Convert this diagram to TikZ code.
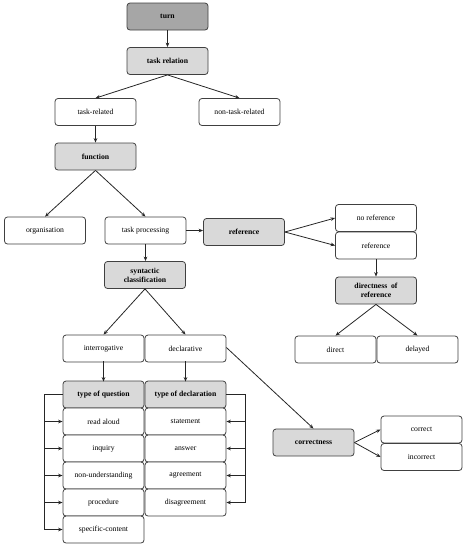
\documentclass[tikz,border=0pt]{standalone}
\usepackage{fontspec}
\setmainfont{Liberation Serif}
\usetikzlibrary{arrows.meta}
\definecolor{boxline}{HTML}{404040}
\definecolor{lightfill}{HTML}{D9D9D9}
\definecolor{darkfill}{HTML}{A6A6A6}
\begin{document}
\begin{tikzpicture}[x=1pt,y=-1pt,
  box/.style={draw=boxline,line width=0.8pt,rounded corners=3pt,minimum width=81pt,minimum height=27pt,inner sep=1pt,align=center,font=\fontsize{7.7}{8.5}\selectfont,fill=white},
  gbox/.style={box,fill=lightfill,font=\fontsize{7.7}{9}\selectfont\bfseries},
  dbox/.style={box,fill=darkfill,font=\fontsize{7.7}{9}\selectfont\bfseries},
  arr/.style={-{Stealth[length=4.5pt,width=3.6pt]},line width=0.8pt,black!85}]
\useasboundingbox (0,0) rectangle (471,550);
\node[dbox] (turn) at (167.5,16.5) {turn};
\node[gbox] (tr) at (167.5,61) {task relation};
\node[box] (trd) at (95.5,112) {task-related};
\node[box] (ntr) at (239.5,112) {non-task-related};
\node[gbox] (fn) at (95.5,156.5) {function};
\node[box] (org) at (45,230.5) {organisation};
\node[box] (tp) at (145.5,230.5) {task processing};
\node[gbox] (ref) at (244,232) {reference};
\node[box] (noref) at (376,218) {no reference};
\node[box] (refw) at (376,245.5) {reference};
\node[gbox] (syn) at (145,275) {syntactic\\classification};
\node[gbox] (dir) at (376,290.5) {directness\ \ of\\reference};
\node[box] (int) at (103.5,348.5) {interrogative};
\node[box] (dec) at (185.5,348.5) {declarative};
\node[box] (direct) at (335.5,349.5) {direct};
\node[box] (delayed) at (417.5,349.5) {delayed};
\node[gbox] (tq) at (103.5,394.5) {type of question};
\node[gbox] (td) at (185.5,394.5) {type of declaration};
\node[box] (ra) at (103.5,421.5) {read aloud};
\node[box] (inq) at (103.5,448.5) {inquiry};
\node[box] (nu) at (103.5,475.5) {non-understanding};
\node[box] (pro) at (103.5,502.5) {procedure};
\node[box] (sc) at (103.5,529.5) {specific-content};
\node[box] (st) at (185.5,421.5) {statement};
\node[box] (ans) at (185.5,448.5) {answer};
\node[box] (agr) at (185.5,475.5) {agreement};
\node[box] (dis) at (185.5,502.5) {disagreement};
\node[gbox] (cor) at (313.5,442.5) {correctness};
\node[box] (corr) at (421.5,429.5) {correct};
\node[box] (inc) at (421.5,457) {incorrect};
\coordinate (lx) at (44,394.5);
\coordinate (rx) at (245,394.5);
\draw[arr] (turn) -- (tr);
\draw[arr] (tr.south) -- (trd.north);
\draw[arr] (tr.south) -- (ntr.north);
\draw[arr] (trd) -- (fn);
\draw[arr] (fn.south) -- (org.north);
\draw[arr] (fn.south) -- (tp.north);
\draw[arr] (tp.east) -- (ref.west |- tp.east);
\draw[arr] (ref.east) -- (noref.west);
\draw[arr] (ref.east) -- (refw.west);
\draw[arr] (refw) -- (dir);
\draw[arr] (tp) -- (tp |- syn.north);
\draw[arr] (syn.south) -- (int.north);
\draw[arr] (syn.south) -- (dec.north);
\draw[arr] (dir.south) -- (direct.north);
\draw[arr] (dir.south) -- (delayed.north);
\draw[arr] ([yshift=1pt]int.south) -- ([yshift=-1pt]tq.north);
\draw[arr] ([yshift=1pt]dec.south) -- ([yshift=-1pt]td.north);
\draw[arr] ([yshift=1pt]dec.east) -- (cor.north);
\draw[arr] (cor.east) -- (corr.west);
\draw[arr] (cor.east) -- (inc.west);
\draw[line width=0.8pt,black!85] (tq.west) -- (lx) -- (lx |- sc.west);
\foreach \n in {ra,inq,nu,pro,sc} \draw[arr] (lx |- \n.west) -- (\n.west);
\draw[line width=0.8pt,black!85] (td.east) -- (rx) -- (rx |- dis.east);
\foreach \n in {st,ans,agr,dis} \draw[arr] (rx |- \n.east) -- (\n.east);
\end{tikzpicture}
\end{document}
